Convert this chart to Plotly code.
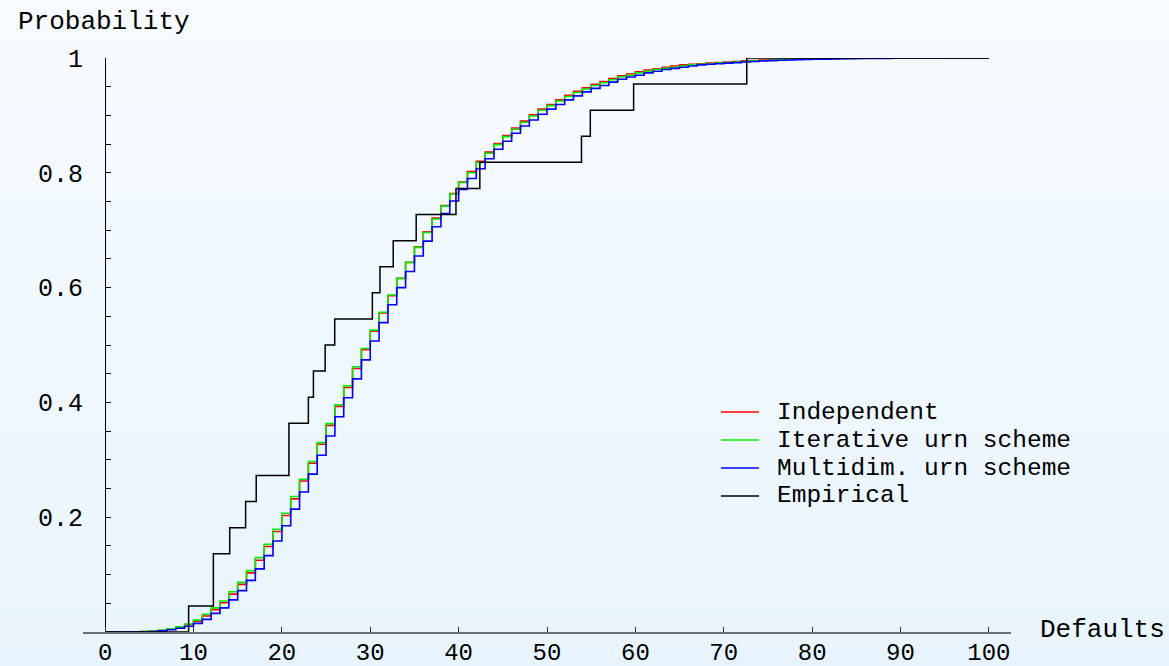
import plotly.graph_objects as go

# ---------------- data ----------------
defaults = list(range(0, 101))

independent = [
    0, 0, 0.0001, 0.0002, 0.0006, 0.0014, 0.0027, 0.005, 0.0082, 0.013,
    0.019, 0.028, 0.039, 0.051, 0.066, 0.083, 0.103, 0.125, 0.149, 0.175,
    0.203, 0.232, 0.263, 0.294, 0.327, 0.360, 0.393, 0.426, 0.459, 0.492,
    0.524, 0.556, 0.586, 0.616, 0.644, 0.671, 0.697, 0.721, 0.743, 0.764,
    0.784, 0.802, 0.820, 0.836, 0.851, 0.865, 0.878, 0.890, 0.901, 0.911,
    0.919, 0.927, 0.935, 0.942, 0.948, 0.954, 0.959, 0.964, 0.969, 0.972,
    0.976, 0.979, 0.981, 0.984, 0.986, 0.988, 0.989, 0.990, 0.991, 0.992,
    0.993, 0.994, 0.995, 0.9957, 0.9963, 0.9969, 0.9974, 0.9978, 0.9982, 0.9985,
    0.9988, 0.999, 0.9992, 0.9993, 0.9995, 0.9996, 0.9997, 0.9997, 0.9998, 0.9998,
    0.9999, 0.9999, 0.9999, 0.9999, 1.0, 1.0, 1.0, 1.0, 1.0, 1.0,
    1.0,
]

iterative = [
    0, 0, 0.0001, 0.0003, 0.0008, 0.0017, 0.003, 0.0055, 0.009, 0.014,
    0.021, 0.031, 0.042, 0.054, 0.070, 0.0865, 0.107, 0.1295, 0.153, 0.179,
    0.207, 0.236, 0.266, 0.297, 0.330, 0.363, 0.396, 0.429, 0.462, 0.494,
    0.526, 0.557, 0.587, 0.616, 0.644, 0.670, 0.696, 0.7195, 0.742, 0.763,
    0.783, 0.800, 0.818, 0.834, 0.849, 0.863, 0.876, 0.888, 0.899, 0.909,
    0.917, 0.925, 0.933, 0.940, 0.946, 0.952, 0.957, 0.962, 0.967, 0.970,
    0.974, 0.977, 0.980, 0.982, 0.984, 0.986, 0.988, 0.989, 0.990, 0.991,
    0.992, 0.993, 0.994, 0.995, 0.9956, 0.9962, 0.9968, 0.9973, 0.9977, 0.998,
    0.9984, 0.9987, 0.9989, 0.9991, 0.9993, 0.9994, 0.9995, 0.9996, 0.9997, 0.9998,
    0.9998, 0.9999, 0.9999, 0.9999, 0.9999, 1.0, 1.0, 1.0, 1.0, 1.0,
    1.0,
]

multidim = [
    0, 0, 0, 0.0002, 0.0005, 0.001, 0.002, 0.0038, 0.0065, 0.010,
    0.015, 0.022, 0.0325, 0.042, 0.056, 0.072, 0.090, 0.110, 0.133, 0.1585,
    0.185, 0.214, 0.244, 0.275, 0.308, 0.3415, 0.375, 0.408, 0.441, 0.474,
    0.507, 0.539, 0.570, 0.600, 0.628, 0.655, 0.681, 0.706, 0.729, 0.751,
    0.771, 0.790, 0.807, 0.8246, 0.841, 0.855, 0.869, 0.8815, 0.892, 0.902,
    0.911, 0.919, 0.927, 0.934, 0.941, 0.947, 0.952, 0.958, 0.963, 0.967,
    0.970, 0.974, 0.977, 0.980, 0.982, 0.984, 0.986, 0.988, 0.989, 0.990,
    0.991, 0.992, 0.993, 0.994, 0.995, 0.9955, 0.996, 0.9966, 0.997, 0.9974,
    0.9978, 0.9981, 0.9984, 0.9986, 0.9988, 0.999, 0.9992, 0.9993, 0.9994, 0.9995,
    0.9996, 0.9997, 0.9997, 0.9998, 0.9998, 0.9999, 0.9999, 0.9999, 1.0, 1.0,
    1.0,
]

# empirical step function: jump locations and cumulative count (of 22)
empirical_x = [0, 9.45, 12.25, 14.1, 15.9, 17.1, 20.8, 23.0, 23.57, 24.9, 25.98,
               30.24, 31.1, 32.6, 35.2, 39.7, 42.4, 53.9, 54.9, 59.8, 72.6, 100]
empirical_count = [0, 1, 3, 4, 5, 6, 8, 9, 10, 11, 12,
                   13, 14, 15, 16, 17, 18, 19, 20, 21, 22, 22]
empirical_total = 22

series_names = ["Independent", "Iterative urn scheme", "Multidim. urn scheme", "Empirical"]
series_colors = ["#ff0000", "#00ee00", "#0000ff", "#000000"]

x_ticks = list(range(0, 101, 10))
y_label_ticks = [0.2, 0.4, 0.6, 0.8, 1.0]
y_label_text = ["0.2", "0.4", "0.6", "0.8", "1"]
y_minor_step = 0.05

# ---------------- figure ----------------
FONT = "Liberation Mono, Courier New, monospace"
W, H = 1169, 666
ML, MR, MT, MB = 83, 158, 58, 34
PW, PH = W - ML - MR, H - MT - MB

fig = go.Figure()

empirical_p = [c / empirical_total for c in empirical_count]
model_series = [independent, iterative, multidim]
for name, color, vals in zip(series_names[:3], series_colors[:3], model_series):
    fig.add_trace(go.Scatter(x=defaults, y=vals, mode="lines", name=name,
                             line=dict(color=color, width=1.6, shape="hv"),
                             showlegend=False, hoverinfo="x+y+name"))
fig.add_trace(go.Scatter(x=empirical_x, y=empirical_p, mode="lines", name=series_names[3],
                         line=dict(color=series_colors[3], width=1.5, shape="hv"),
                         showlegend=False))

def px_to_paper_x(px):
    return (px - ML) / PW

def px_to_paper_y(py):
    return (H - MB - py) / PH

# background gradient (top lighter, bottom light blue)
shapes = []
top = (247, 251, 255)
bot = (232, 244, 253)
nb = 74
for i in range(nb):
    t = (i + 0.5) / nb
    c = tuple(round(top[k] + (bot[k] - top[k]) * t) for k in range(3))
    y0 = i * H / nb
    y1 = (i + 1) * H / nb + 0.6
    shapes.append(dict(type="rect", xref="paper", yref="paper",
                       x0=px_to_paper_x(-2), x1=px_to_paper_x(W + 2),
                       y0=px_to_paper_y(y1), y1=px_to_paper_y(y0),
                       fillcolor="rgb(%d,%d,%d)" % c, line=dict(width=0), layer="below"))

# y tick values: every 0.05 with labels at 0.2 multiples
y_tickvals = [round(y_minor_step * i, 2) for i in range(1, 21)]
y_ticktext = []
for v in y_tickvals:
    lab = ""
    for lv, lt in zip(y_label_ticks, y_label_text):
        if abs(lv - v) < 1e-9:
            lab = lt
    y_ticktext.append(lab)

# custom legend
leg_rows_y = [412, 440, 468, 496]
annotations = []
for name, color, ry in zip(series_names, series_colors, leg_rows_y):
    shapes.append(dict(type="line", xref="paper", yref="paper",
                       x0=px_to_paper_x(721), x1=px_to_paper_x(759),
                       y0=px_to_paper_y(ry), y1=px_to_paper_y(ry),
                       line=dict(color=color, width=1.3), layer="above"))
    annotations.append(dict(text=name, xref="paper", yref="paper",
                            x=px_to_paper_x(776), y=px_to_paper_y(ry),
                            xanchor="left", yanchor="middle", showarrow=False,
                            borderpad=0,
                            font=dict(family=FONT, size=24.5, color="black")))

annotations.append(dict(text="Probability", xref="paper", yref="paper",
                        x=px_to_paper_x(16), y=px_to_paper_y(22),
                        xanchor="left", yanchor="middle", showarrow=False,
                        font=dict(family=FONT, size=26, color="black")))
annotations.append(dict(text="Defaults", xref="paper", yref="paper",
                        x=px_to_paper_x(1038), y=px_to_paper_y(630),
                        xanchor="left", yanchor="middle", showarrow=False,
                        font=dict(family=FONT, size=26, color="black")))

fig.update_layout(
    width=W, height=H,
    margin=dict(l=ML, r=MR, t=MT, b=MB, pad=0, autoexpand=False),
    paper_bgcolor="rgb(240,247,254)",
    plot_bgcolor="rgba(0,0,0,0)",
    showlegend=False,
    shapes=shapes,
    annotations=annotations,
    xaxis=dict(range=[-2.5, 102.5], domain=[0, 1], showgrid=False, automargin=False,
               showline=True, linecolor="#6b6b6b", linewidth=1.5,
               zeroline=False,
               ticks="inside", ticklen=5, tickwidth=1, tickcolor="#333",
               tickmode="array", tickvals=x_ticks, ticktext=[str(v) for v in x_ticks],
               tickfont=dict(family=FONT, size=24, color="black"),
               ticklabelstandoff=-3),
    yaxis=dict(range=[0, 1], showgrid=False, zeroline=False, automargin=False,
               anchor="free", position=px_to_paper_x(105),
               showline=True, linecolor="black", linewidth=1,
               ticks="inside", ticklen=5, tickwidth=1, tickcolor="black",
               tickmode="array", tickvals=y_tickvals, ticktext=y_ticktext,
               tickfont=dict(family=FONT, size=25, color="black"),
               ticklabelstandoff=17),
)

fig.write_html("out.html", config={"displayModeBar": False},
               post_script="document.body.style.margin='0';document.body.style.overflow='hidden';")
